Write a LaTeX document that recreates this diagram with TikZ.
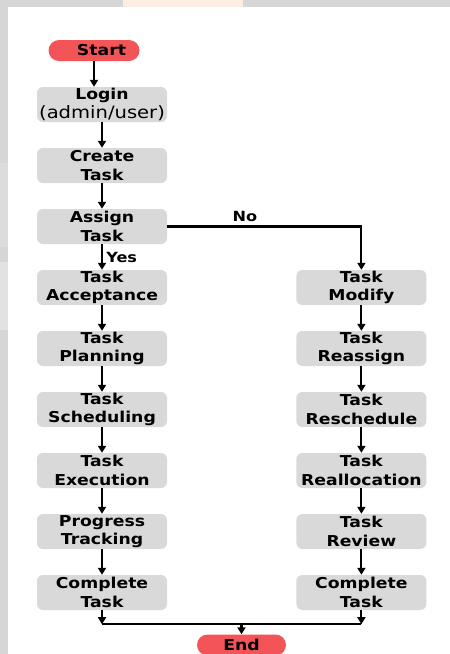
\documentclass[tikz,border=0pt]{standalone}
\usepackage{fontspec}
\setmainfont{DejaVu Sans}[FakeStretch=1.15]
\usetikzlibrary{arrows.meta, positioning}
\definecolor{pillred}{RGB}{242,84,87}
\definecolor{boxgray}{RGB}{217,217,217}
\definecolor{framegray}{RGB}{214,214,214}
\definecolor{tabpeach}{RGB}{255,236,226}
\tikzstyle{startstop} = [rectangle, rounded corners=10.5pt, minimum width=91pt, minimum height=21pt, inner sep=0pt, text centered, fill=pillred, font=\bfseries\fontsize{15}{18}\selectfont]
\tikzstyle{process} = [rectangle, rounded corners=6pt, minimum width=130pt, minimum height=35pt, inner sep=1pt, align=center, fill=boxgray, font=\bfseries\fontsize{15}{18.3}\selectfont]
\tikzstyle{arrow} = [line width=2.1pt, ->, >={Triangle[length=7pt, width=8pt]}]
\tikzstyle{line} = [line width=2.1pt]
\tikzstyle{lbl} = [font=\bfseries\fontsize{14}{16}\selectfont]

\begin{document}
\begin{tikzpicture}[x=1pt, y=1pt, node distance=61pt]

% screenshot frame
\fill [framegray] (0,0) rectangle (450,-654);
\fill [tabpeach] (123,0) rectangle (243,-7);
\fill [white] (8,-7) rectangle (450,-654);
\fill [framegray] (0,-7) rectangle (8,-152);
\fill [framegray!85] (0,-163) rectangle (8,-247);
\fill [framegray!70] (0,-262) rectangle (8,-330);
\useasboundingbox (0,0) rectangle (450,-654);

\node (start) [startstop] at (94,-50.5) {\hspace*{15pt}Start};
\node (login) [process] at (102,-104.5) {Login\\{\mdseries\fontsize{17}{18.3}\selectfont(admin/user)}};
\node (create) [process, below of=login] {Create\\Task};
\node (assign) [process, below of=create] {Assign\\Task};
\node (accept) [process, below of=assign] {Task\\Acceptance};
\node (plan) [process, below of=accept] {Task\\Planning};
\node (sched) [process, below of=plan] {Task\\Scheduling};
\node (exec) [process, below of=sched] {Task\\Execution};
\node (track) [process, below of=exec] {Progress\\Tracking};
\node (done1) [process, below of=track] {Complete\\Task};

% No branch
\node (modify) [process, right=129pt of accept] {Task\\Modify};
\node (reassign) [process, below of=modify] {Task\\Reassign};
\node (resched) [process, below of=reassign] {Task\\Reschedule};
\node (realloc) [process, below of=resched] {Task\\Reallocation};
\node (review) [process, below of=realloc] {Task\\Review};
\node (done2) [process, below of=review] {Complete\\Task};

\node (finish) [startstop, minimum width=89pt] at (241.5,-645) {End};
\coordinate [below=14pt of done1] (j1);
\coordinate [below=14pt of done2] (j2);

\draw [arrow] (start) -- (start |- login.north);
\draw [arrow] (login) -- (create);
\draw [arrow] (create) -- (assign);
\draw [arrow] (assign) -- node [lbl, right] {Yes} (accept);
\draw [arrow] (assign) -| node [lbl, pos=0.2, above] {No} (modify);
\draw [arrow] (accept) -- (plan);
\draw [arrow] (plan) -- (sched);
\draw [arrow] (sched) -- (exec);
\draw [arrow] (exec) -- (track);
\draw [arrow] (track) -- (done1);
\draw [arrow] (modify) -- (reassign);
\draw [arrow] (reassign) -- (resched);
\draw [arrow] (resched) -- (realloc);
\draw [arrow] (realloc) -- (review);
\draw [arrow] (review) -- (done2);
\draw [arrow] (done1) -- (j1);
\draw [arrow] (done2) -- (j2);
\draw [line] (j1) -- (j2);
\draw [arrow] (j1 -| finish) -- (finish);

\end{tikzpicture}
\end{document}
